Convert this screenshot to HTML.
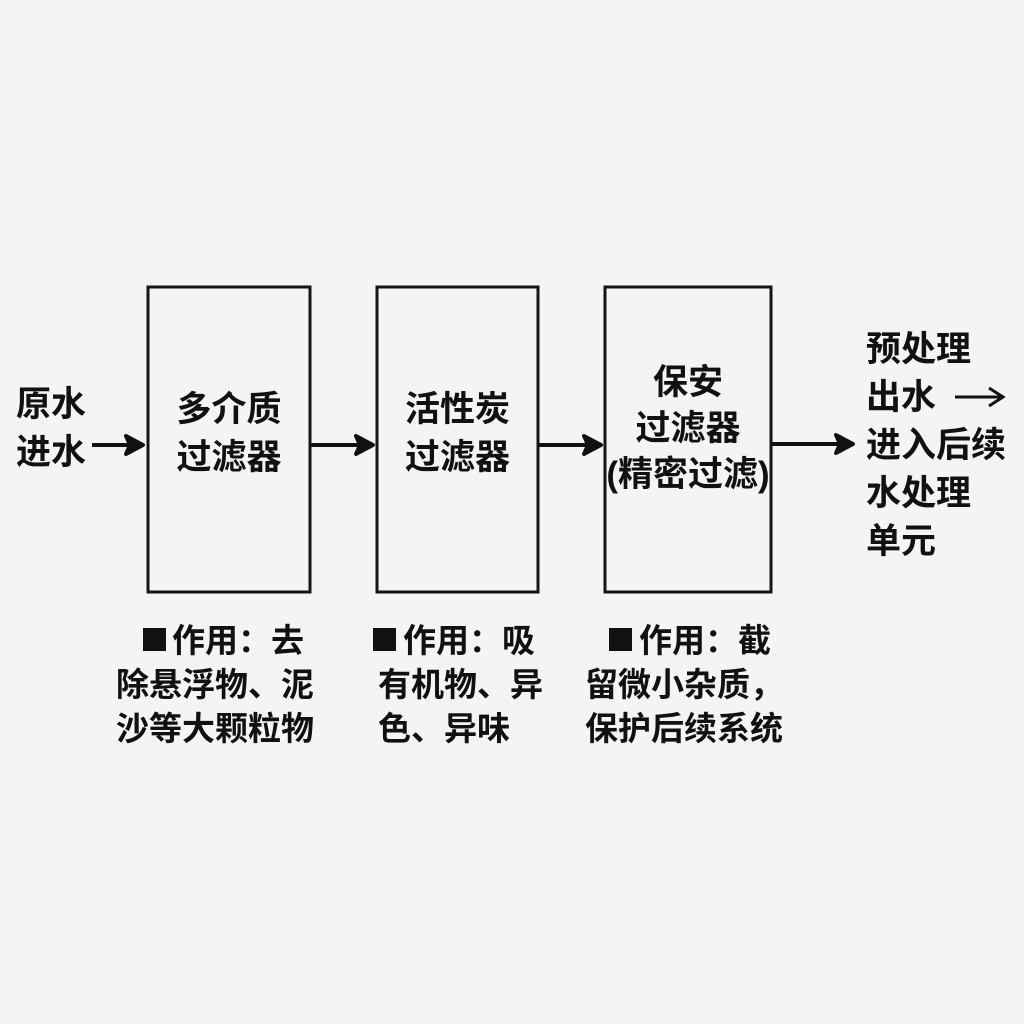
<!DOCTYPE html>
<html><head><meta charset="utf-8"><style>
html,body{margin:0;padding:0}
body{width:1024px;height:1024px;background:#f4f4f2;position:relative;overflow:hidden;font-family:"Liberation Sans","Noto Sans CJK SC",sans-serif;color:#111;font-weight:bold}
.t{position:absolute;font-size:35px;line-height:48px;white-space:nowrap}
.c{text-align:center}
.b{position:absolute;font-size:33px;line-height:44px;white-space:nowrap;font-weight:bold}
.sq{position:absolute;width:23px;height:23px;background:#111}
</style></head><body>
<svg width="1024" height="1024" style="position:absolute;left:0;top:0">
<g fill="none" stroke="#151515" stroke-width="3">
<rect x="148" y="287" width="162" height="305"/>
<rect x="377" y="287" width="161" height="305"/>
<rect x="605" y="287" width="166" height="305"/>
</g>
<g stroke="#111" stroke-width="4" fill="#111" stroke-linejoin="round">
<line x1="92" y1="445" x2="132" y2="445"/><path d="M126,436 L143,445 L126,454 L130,445 Z"/>
<line x1="311" y1="445" x2="362" y2="445"/><path d="M356,436 L373,445 L356,454 L360,445 Z"/>
<line x1="539" y1="445" x2="590" y2="445"/><path d="M584,436 L601,445 L584,454 L588,445 Z"/>
<line x1="772" y1="444" x2="842" y2="444"/><path d="M836,435 L853,444 L836,453 L840,444 Z"/>
</g>
<g stroke="#111" stroke-width="3" fill="none">
<line x1="955" y1="397" x2="1000" y2="397"/><path d="M989,388 L1003,397 L989,406"/>
</g>
</svg>
<div class="t" style="left:16px;top:381px">原水<br>进水</div>
<div class="t c" style="left:148px;width:162px;top:386px">多介质<br>过滤器</div>
<div class="t c" style="left:377px;width:161px;top:386px">活性炭<br>过滤器</div>
<div class="t c" style="left:596px;width:184px;top:360px;line-height:46px">保安<br>过滤器<br>(精密过滤)</div>
<div class="t" style="left:866px;top:326px;line-height:48px">预处理<br>出水<br>进入后续<br>水处理<br>单元</div>
<div class="sq" style="left:143px;top:628px"></div>
<div class="sq" style="left:373px;top:628px"></div>
<div class="sq" style="left:609px;top:628px"></div>
<div class="b" style="left:172px;top:619px">作用：去</div>
<div class="b" style="left:116px;top:663px">除悬浮物、泥<br>沙等大颗粒物</div>
<div class="b" style="left:403px;top:619px">作用：吸</div>
<div class="b" style="left:378px;top:663px">有机物、异<br>色、异味</div>
<div class="b" style="left:639px;top:619px">作用：截</div>
<div class="b" style="left:585px;top:663px">留微小杂质，<br>保护后续系统</div>
</body></html>
